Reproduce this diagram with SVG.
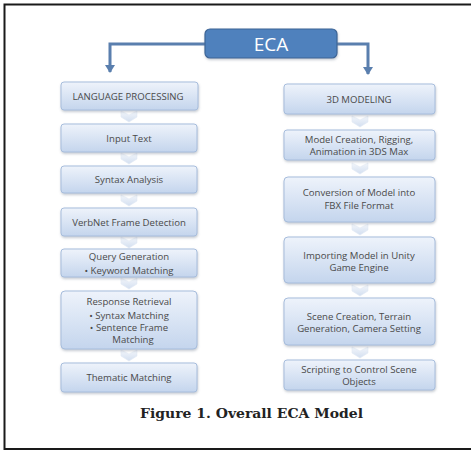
<svg xmlns="http://www.w3.org/2000/svg" width="471" height="451" viewBox="0 0 471 451">
  <defs>
    <linearGradient id="boxFill" x1="0" y1="0" x2="0" y2="1">
      <stop offset="0" stop-color="#eef3fb"/>
      <stop offset="1" stop-color="#c4d5ed"/>
    </linearGradient>
    <linearGradient id="chevFill" x1="0" y1="0" x2="0" y2="1">
      <stop offset="0" stop-color="#f3f6fb"/>
      <stop offset="1" stop-color="#d3dff0"/>
    </linearGradient>
    <filter id="shadow" x="-10%" y="-20%" width="120%" height="150%">
      <feDropShadow dx="0.5" dy="1.5" stdDeviation="1" flood-color="#7f8a99" flood-opacity="0.45"/>
    </filter>
    <marker id="arrow" markerWidth="10" markerHeight="10" refX="8" refY="5" orient="auto" markerUnits="userSpaceOnUse" viewBox="0 0 10 10">
      <path d="M1,0 L1,10 L9,5 Z" fill="#5a7fae"/>
    </marker>
    <symbol id="chev" viewBox="0 0 16 12" overflow="visible">
      <path d="M0,0 L8,4 L16,0 L16,6 L8,11 L0,6 Z" fill="url(#chevFill)" stroke="#e3eaf4" stroke-width="0.6"/>
    </symbol>
  </defs>
  <style>
    .box { fill: url(#boxFill); stroke: #a7bddc; stroke-width: 1; filter: url(#shadow); }
    .lbl { font-family: "Open Sans", "DejaVu Sans", sans-serif; font-size: 9.6px; fill: #4a4a4a; text-anchor: middle; }
    .cap { font-family: "DejaVu Serif", "Liberation Serif", serif; font-weight: bold; font-size: 13px; fill: #222; }
    .conn { fill: none; stroke: #5a7fae; stroke-width: 3; }
  </style>

  <rect width="471" height="451" fill="#ffffff"/>
  <!-- outer frame (open on the right) -->
  <path d="M476,4.5 L4.5,4.5 L4.5,449 L476,449" fill="none" stroke="#1a1a1a" stroke-width="2"/>

  <!-- connectors -->
  <g id="connectors">
    <path class="conn" d="M205,44 L110,44 L110,72" marker-end="url(#arrow)"/>
    <path class="conn" d="M337,44 L368,44 L368,74" marker-end="url(#arrow)"/>
    <!-- left column chevrons -->
    <use href="#chev" x="121" y="111" width="16" height="12"/>
    <use href="#chev" x="121" y="153" width="16" height="12"/>
    <use href="#chev" x="121" y="195" width="16" height="12"/>
    <use href="#chev" x="121" y="237" width="16" height="12"/>
    <use href="#chev" x="121" y="278" width="16" height="12"/>
    <use href="#chev" x="121" y="350" width="16" height="12"/>
    <!-- right column chevrons -->
    <use href="#chev" x="352" y="116" width="16" height="12"/>
    <use href="#chev" x="352" y="163" width="16" height="12"/>
    <use href="#chev" x="352" y="224" width="16" height="12"/>
    <use href="#chev" x="352" y="285" width="16" height="12"/>
    <use href="#chev" x="352" y="347" width="16" height="12"/>
  </g>

  <g id="eca">
    <rect x="205" y="29" width="132" height="29" rx="5" fill="#4f81bd" stroke="#3d6596" stroke-width="1.2" filter="url(#shadow)"/>
    <text x="271" y="51" font-family="Open Sans, DejaVu Sans, sans-serif" font-size="19" fill="#ffffff" text-anchor="middle">ECA</text>
  </g>

  <!-- left column -->
  <g id="language-processing">
    <rect class="box" x="61" y="82" width="137" height="28" rx="3"/>
    <text class="lbl" x="128" y="99.5" font-size="8.8">LANGUAGE PROCESSING</text>
  </g>
  <g id="input-text">
    <rect class="box" x="61" y="124" width="136" height="28" rx="3"/>
    <text class="lbl" x="129" y="141.5">Input Text</text>
  </g>
  <g id="syntax-analysis">
    <rect class="box" x="61" y="166" width="136" height="27" rx="3"/>
    <text class="lbl" x="129" y="183">Syntax Analysis</text>
  </g>
  <g id="verbnet">
    <rect class="box" x="61" y="208" width="136" height="28" rx="3"/>
    <text class="lbl" x="129" y="225.5">VerbNet Frame Detection</text>
  </g>
  <g id="query-generation">
    <rect class="box" x="61" y="249" width="136" height="28" rx="3"/>
    <text class="lbl" x="129" y="259.5">Query Generation</text>
    <text class="lbl" x="129" y="274">• Keyword Matching</text>
  </g>
  <g id="response-retrieval">
    <rect class="box" x="61" y="291" width="136" height="58" rx="4"/>
    <text class="lbl" x="129" y="305">Response  Retrieval</text>
    <text class="lbl" x="129" y="318.5">• Syntax Matching</text>
    <text class="lbl" x="129" y="331">• Sentence Frame</text>
    <text class="lbl" x="133" y="343">Matching</text>
  </g>
  <g id="thematic-matching">
    <rect class="box" x="61" y="363" width="136" height="29" rx="3"/>
    <text class="lbl" x="129" y="380.5">Thematic Matching</text>
  </g>

  <!-- right column -->
  <g id="modeling-3d">
    <rect class="box" x="284" y="84" width="151" height="30" rx="3"/>
    <text class="lbl" x="359" y="102.5" font-size="8.8">3D MODELING</text>
  </g>
  <g id="model-creation">
    <rect class="box" x="284" y="130" width="151" height="30" rx="3"/>
    <text class="lbl" x="359" y="143">Model Creation, Rigging,</text>
    <text class="lbl" x="359" y="154.5">Animation in 3DS Max</text>
  </g>
  <g id="conversion">
    <rect class="box" x="284" y="177" width="151" height="45" rx="4"/>
    <text class="lbl" x="359" y="196">Conversion of Model into</text>
    <text class="lbl" x="359" y="208.5">FBX File Format</text>
  </g>
  <g id="importing">
    <rect class="box" x="284" y="237" width="151" height="46" rx="4"/>
    <text class="lbl" x="359" y="258.5">Importing Model in Unity</text>
    <text class="lbl" x="359" y="270.5">Game Engine</text>
  </g>
  <g id="scene-creation">
    <rect class="box" x="284" y="298" width="151" height="47" rx="4"/>
    <text class="lbl" x="359" y="319.5">Scene Creation, Terrain</text>
    <text class="lbl" x="359" y="331.5">Generation, Camera Setting</text>
  </g>
  <g id="scripting">
    <rect class="box" x="284" y="360" width="151" height="30" rx="3"/>
    <text class="lbl" x="359" y="373">Scripting to Control Scene</text>
    <text class="lbl" x="359" y="385">Objects</text>
  </g>

  <text class="cap" x="140" y="418" textLength="223" lengthAdjust="spacingAndGlyphs">Figure 1. Overall ECA Model</text>
</svg>
